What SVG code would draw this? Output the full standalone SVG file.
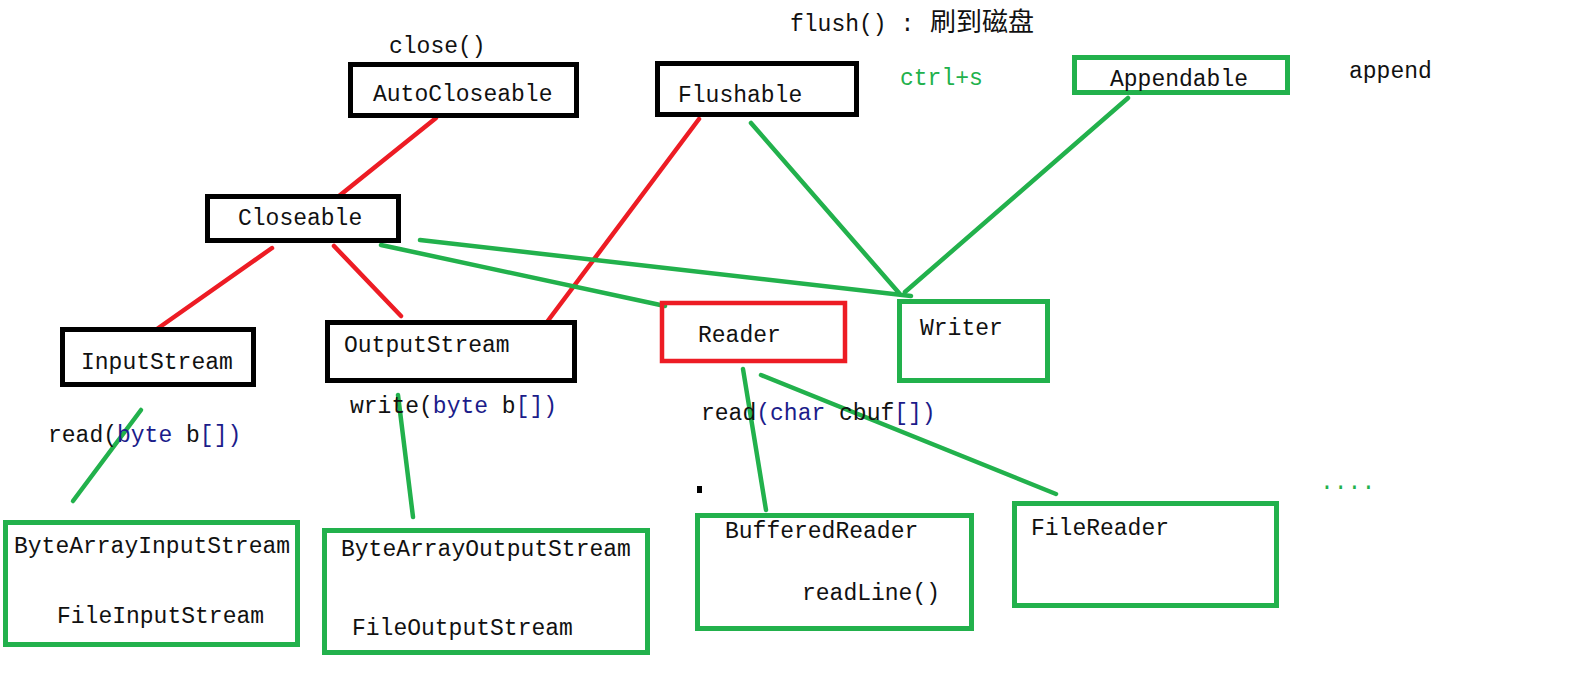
<svg xmlns="http://www.w3.org/2000/svg" width="1589" height="687" viewBox="0 0 1589 687">
<style>
text{font-family:"Liberation Mono","Noto Sans CJK SC",monospace;font-size:23px;fill:#111}
.cjk{font-family:"Noto Sans CJK SC","Liberation Sans",sans-serif;font-size:26px}
.kw{fill:#1c1c8a}
.g{fill:#22b14c}
.bk{fill:none;stroke:#000;stroke-width:5}
.gb{fill:none;stroke:#22b14c;stroke-width:5}
.rb{fill:none;stroke:#ed1c24;stroke-width:4.5}
.rl{stroke:#ed1c24;stroke-width:4.5;stroke-linecap:round}
.gl{stroke:#22b14c;stroke-width:4.5;stroke-linecap:round}
</style>
<rect width="1589" height="687" fill="#fff"/>
<g id="connectors">
<line class="rl" x1="436" y1="118" x2="339" y2="196"/>
<line class="rl" x1="272" y1="248" x2="157" y2="329"/>
<line class="rl" x1="334" y1="246" x2="401" y2="316"/>
<line class="rl" x1="699" y1="119" x2="547" y2="322"/>
<line class="gl" x1="751" y1="123" x2="899" y2="293"/>
<line class="gl" x1="1128" y1="98" x2="905" y2="292"/>
<line class="gl" x1="381" y1="245" x2="665" y2="306"/>
<line class="gl" x1="420" y1="240" x2="911" y2="296"/>
<line class="gl" x1="141" y1="410" x2="73" y2="501"/>
<line class="gl" x1="398" y1="395" x2="413" y2="517"/>
<line class="gl" x1="743" y1="369" x2="766" y2="510"/>
<line class="gl" x1="761" y1="375" x2="1056" y2="494"/>
</g>
<g id="labels">
<text x="790" y="31">flush() : <tspan class="cjk" x="930">刷到磁盘</tspan></text>
<text x="389" y="53">close()</text>
<text class="g" x="900" y="85" font-size="21">ctrl+s</text>
<text x="1349" y="78">append</text>
<text x="48" y="442">read(<tspan class="kw">byte</tspan> b<tspan class="kw">[])</tspan></text>
<text x="350" y="413">write(<tspan class="kw">byte</tspan> b<tspan class="kw">[])</tspan></text>
<text x="701" y="420">read<tspan class="kw">(char</tspan> cbuf<tspan class="kw">[])</tspan></text>
<rect x="697" y="486" width="5" height="7" fill="#000"/>
<text class="g" x="1320" y="489" font-size="20">....</text>
</g>
<g id="AutoCloseable"><rect class="bk" x="350.5" y="64.5" width="226" height="51"/><text x="373" y="101">AutoCloseable</text></g>
<g id="Flushable"><rect class="bk" x="657.5" y="63.5" width="199" height="51"/><text x="678" y="102">Flushable</text></g>
<g id="Appendable"><rect class="gb" x="1074.5" y="57.5" width="213" height="35"/><text x="1110" y="86">Appendable</text></g>
<g id="Closeable"><rect class="bk" x="207.5" y="196.5" width="191" height="44"/><text x="238" y="225">Closeable</text></g>
<g id="InputStream"><rect class="bk" x="62.5" y="329.5" width="191" height="55"/><text x="81" y="369">InputStream</text></g>
<g id="OutputStream"><rect class="bk" x="327.5" y="322.5" width="247" height="58"/><text x="344" y="352">OutputStream</text></g>
<g id="Reader"><rect class="rb" x="662" y="303" width="183" height="58"/><text x="698" y="342">Reader</text></g>
<g id="Writer"><rect class="gb" x="899.5" y="301.5" width="148" height="79"/><text x="920" y="335">Writer</text></g>
<g id="ByteArrayInputStream"><rect class="gb" x="5.5" y="522.5" width="292" height="122"/><text x="14" y="553">ByteArrayInputStream</text><text x="57" y="623">FileInputStream</text></g>
<g id="ByteArrayOutputStream"><rect class="gb" x="324.5" y="530.5" width="323" height="122"/><text x="341" y="556">ByteArrayOutputStream</text><text x="352" y="635">FileOutputStream</text></g>
<g id="BufferedReader"><rect class="gb" x="697.5" y="515.5" width="274" height="113"/><text x="725" y="538">BufferedReader</text><text x="802" y="600">readLine()</text></g>
<g id="FileReader"><rect class="gb" x="1014.5" y="503.5" width="262" height="102"/><text x="1031" y="535">FileReader</text></g>
</svg>
